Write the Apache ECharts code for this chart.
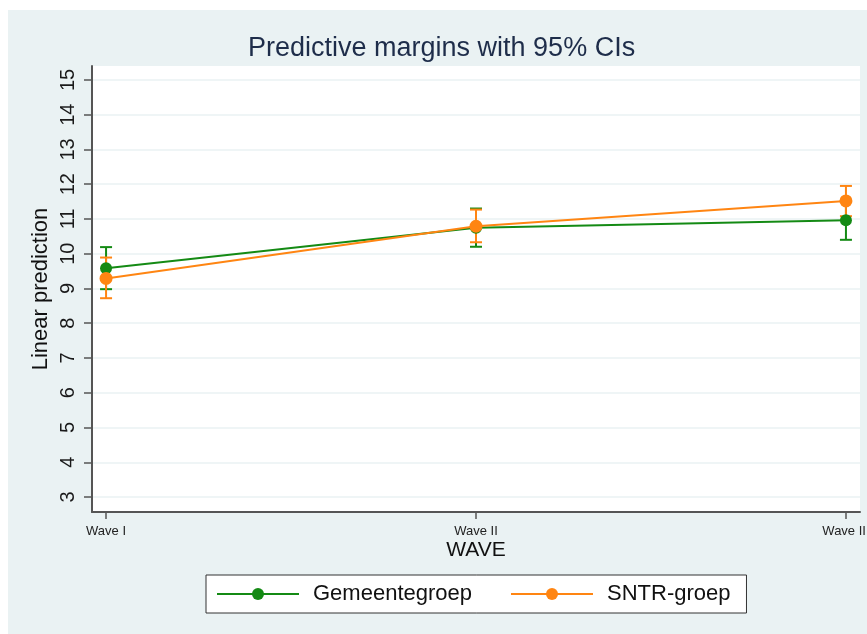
<!DOCTYPE html>
<html>
<head>
<meta charset="utf-8">
<script src="https://cdn.jsdelivr.net/npm/echarts@6/dist/echarts.min.js"></script>
<style>
  html, body { margin: 0; padding: 0; background: #ffffff; }
  #bg { position: absolute; left: 8px; top: 10px; width: 859px; height: 624px; background: #EAF2F3; }
  #chart { position: absolute; left: 0; top: 0; width: 867px; height: 634px; }
</style>
</head>
<body>
<div id="bg"></div>
<div id="chart"></div>
<script>
// predictive margins
const waves = ['Wave I', 'Wave II', 'Wave III']
const gemMargin = [9.58, 10.75, 10.96]
const gemLow = [8.98, 10.20, 10.40]
const gemHigh = [10.19, 11.30, 11.52]
const sntrMargin = [9.29, 10.79, 11.52]
const sntrLow = [8.72, 10.33, 11.08]
const sntrHigh = [9.89, 11.27, 11.95]
const yTicks = [3, 4, 5, 6, 7, 8, 9, 10, 11, 12, 13, 14, 15]
const xTicks = [0, 1, 2]

const GREEN = '#148A14'
const ORANGE = '#FF8512'
const FONT = '"Liberation Sans", Arial, sans-serif'

function ciRender(color) {
  return function (params, api) {
    const x = api.value(0)
    const lo = api.coord([x, api.value(1)])
    const hi = api.coord([x, api.value(2)])
    const half = 6
    const st = { stroke: color, lineWidth: 2 }
    return {
      type: 'group',
      children: [
        { type: 'line', shape: { x1: lo[0], y1: lo[1], x2: hi[0], y2: hi[1] }, style: st },
        { type: 'line', shape: { x1: lo[0] - half, y1: lo[1], x2: lo[0] + half, y2: lo[1] }, style: st },
        { type: 'line', shape: { x1: hi[0] - half, y1: hi[1], x2: hi[0] + half, y2: hi[1] }, style: st }
      ]
    }
  }
}

const pts = (vals) => vals.map((v, i) => [i, v])
const ci = (lo, hi) => lo.map((v, i) => [i, v, hi[i]])

const chart = echarts.init(document.getElementById('chart'))
chart.setOption({
  animation: false,
  backgroundColor: 'transparent',
  textStyle: { fontFamily: FONT },
  title: {
    text: 'Predictive margins with 95% CIs',
    left: 248,
    top: 35,
    padding: 0,
    textStyle: { fontFamily: FONT, fontSize: 27, fontWeight: 'normal', color: '#1E2D4A' }
  },
  grid: {
    left: 92, right: 7, top: 66, bottom: 122,
    show: true, backgroundColor: '#ffffff', borderWidth: 0,
    outerBoundsMode: 'none'
  },
  legend: {
    data: ['Gemeentegroep', 'SNTR-groep'],
    left: 206, top: 575,
    orient: 'horizontal',
    padding: [8, 16, 8, 10],
    itemWidth: 82, itemHeight: 15, itemGap: 38,
    backgroundColor: '#ffffff',
    borderColor: '#333333', borderWidth: 1, borderRadius: 0,
    textStyle: { fontFamily: FONT, fontSize: 22, color: '#111111', padding: [0, 0, 0, 9] }
  },
  xAxis: {
    type: 'value',
    min: -0.038, max: 2.038,
    name: 'WAVE',
    nameLocation: 'middle',
    nameGap: 28,
    nameMoveOverlap: false,
    nameTextStyle: { fontFamily: FONT, fontSize: 21, color: '#111111' },
    axisLine: { show: true, onZero: false, lineStyle: { color: '#555555', width: 2 } },
    axisTick: { show: true, length: 7, customValues: xTicks, lineStyle: { color: '#555555', width: 1.5 } },
    axisLabel: {
      customValues: xTicks, margin: 13, fontSize: 13, color: '#222222', fontFamily: FONT,
      formatter: (v) => waves[Math.round(v)]
    },
    splitLine: { show: false }
  },
  yAxis: {
    type: 'value',
    min: 2.57, max: 15.4,
    name: 'Linear prediction',
    nameLocation: 'middle',
    nameGap: 40,
    nameMoveOverlap: false,
    nameTextStyle: { fontFamily: FONT, fontSize: 22, color: '#111111' },
    axisLine: { show: true, onZero: false, lineStyle: { color: '#555555', width: 2 } },
    axisTick: { show: true, length: 8, customValues: yTicks, lineStyle: { color: '#555555', width: 1.5 } },
    axisLabel: {
      customValues: yTicks, rotate: 90, margin: 14, fontSize: 20, color: '#1a1a1a', fontFamily: FONT
    },
    splitLine: { show: true, lineStyle: { color: '#EAF2F3', width: 1.5 } }
  },
  series: [
    {
      name: 'Gemeentegroep CI', type: 'custom', renderItem: ciRender(GREEN),
      data: ci(gemLow, gemHigh), encode: { x: 0, y: [1, 2] }, z: 2
    },
    {
      name: 'SNTR-groep CI', type: 'custom', renderItem: ciRender(ORANGE),
      data: ci(sntrLow, sntrHigh), encode: { x: 0, y: [1, 2] }, z: 2
    },
    {
      name: 'Gemeentegroep', type: 'line', data: pts(gemMargin),
      symbol: 'circle', symbolSize: 12, z: 3,
      lineStyle: { color: GREEN, width: 2 }, itemStyle: { color: GREEN }
    },
    {
      name: 'SNTR-groep', type: 'line', data: pts(sntrMargin),
      symbol: 'circle', symbolSize: 13, z: 4,
      lineStyle: { color: ORANGE, width: 2 }, itemStyle: { color: ORANGE }
    }
  ]
})
</script>
</body>
</html>
